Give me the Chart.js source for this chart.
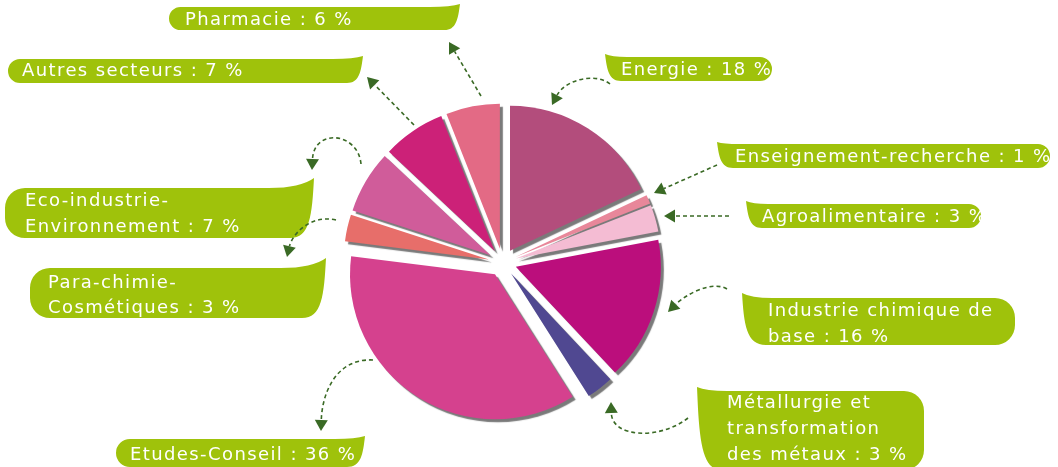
<!DOCTYPE html>
<html><head><meta charset="utf-8">
<script src="https://cdn.jsdelivr.net/npm/chart.js@4.4.1/dist/chart.umd.min.js"></script>
<style>html,body{margin:0;padding:0;background:#fff;overflow:hidden}#wrap{position:relative;width:1058px;height:467px}</style>
</head><body><div id="wrap"><canvas id="c"></canvas></div>
<script>
// ---- data ----
const categories = ['Energie','Enseignement-recherche','Agroalimentaire','Industrie chimique de base','Métallurgie et transformation des métaux','Etudes-Conseil','Para-chimie-Cosmétiques','Eco-industrie-Environnement','Autres secteurs','Pharmacie'];
const shares = [18,1,3,16,3,36,3,7,7,6];
const sliceColors = ['#b34d7c','#e8879a','#f4bcd3','#bb0e7c','#504891','#d5418e','#e76e6a','#d05c9a','#cc2178','#e36a85'];
// tokens per line (last line takes the rest)
const lineSplits = [[],[],[],[3],[2,1],[],[2],[2],[],[]];

// ---- layout / style ----
const TAG_GREEN = '#9fc20b';
const ARROW_GREEN = '#3a6a25';
const EXPLODE = 14;
const tags = [
  {side:'left',  x1:606, y1:57,  x2:772,  y2:81,  tx:605, ty:54,  textX:621, textY:75},
  {side:'left',  x1:719, y1:144, x2:1050, y2:168, tx:717, ty:142, textX:735, textY:162},
  {side:'left',  x1:747, y1:204, x2:981,  y2:228, tx:746, ty:201, textX:762, textY:222},
  {side:'left',  x1:745, y1:298, x2:1015, y2:345, tx:742, ty:293, textX:768, textY:316, lh:26},
  {side:'left',  x1:700, y1:391, x2:924,  y2:470, tx:697, ty:387, textX:727, textY:408, lh:26},
  {side:'right', x1:116, y1:439, x2:362,  y2:467, tx:365, ty:436, textX:130, textY:460},
  {side:'right', x1:30,  y1:268, x2:318,  y2:318, tx:326, ty:258, textX:48,  textY:288, lh:25},
  {side:'right', x1:5,   y1:188, x2:305,  y2:238, tx:314, ty:178, textX:25,  textY:206, lh:26},
  {side:'right', x1:8,   y1:59,  x2:358,  y2:83,  tx:363, ty:56,  textX:22,  textY:76},
  {side:'right', x1:169, y1:7,   x2:456,  y2:30,  tx:460, ty:4,   textX:185, textY:25}
];
const arrows = [
  [[610,84],[595,72],[565,80],[552,105]],
  [[717,165],[654,193]],
  [[729,216],[664,216]],
  [[727,289],[712,280],[685,295],[668,312]],
  [[688,418],[660,440],[612,438],[611,402]],
  [[373,360],[335,358],[322,395],[321,431]],
  [[336,220],[310,214],[292,235],[287,257]],
  [[361,164],[358,132],[314,128],[312,170]],
  [[414,125],[367,77]],
  [[481,96],[449,42]]
];

function tokens(s){ return s.match(/[^\s-]+-|[^\s-]+\s*|\s+/g); }
function labelLines(i){
  const t = tokens(categories[i] + ' : ' + shares[i] + ' %');
  const out=[]; let k=0;
  for (const n of lineSplits[i]) { out.push(t.slice(k,k+n).join('').trim()); k+=n; }
  out.push(t.slice(k).join('').trim());
  return out;
}

function tagPath(ctx,b){
  const {x1,y1,x2,y2,tx,ty}=b; const h=y2-y1; const r=Math.min(h/2,20);
  ctx.beginPath();
  if (b.side==='right'){
    const flare = h>30 ? 45 : 30;
    ctx.moveTo(x1+r,y1);
    ctx.lineTo(tx-flare,y1);
    ctx.quadraticCurveTo(tx-flare*0.3,y1,tx,ty);
    ctx.bezierCurveTo(tx-2,y1+h*0.55,tx-4,y2,tx-4-r,y2);
    ctx.lineTo(x1+r,y2);
    ctx.arcTo(x1,y2,x1,y2-r,r);
    ctx.lineTo(x1,y1+r);
    ctx.arcTo(x1,y1,x1+r,y1,r);
  } else {
    const flare = h>30 ? 30 : 22;
    ctx.moveTo(tx,ty);
    ctx.quadraticCurveTo(tx+flare*0.3,y1,tx+flare,y1);
    ctx.lineTo(x2-r,y1);
    ctx.arcTo(x2,y1,x2,y1+r,r);
    ctx.lineTo(x2,y2-r);
    ctx.arcTo(x2,y2,x2-r,y2,r);
    ctx.lineTo(tx+4+r,y2);
    ctx.bezierCurveTo(tx+4,y2,tx+2,y1+h*0.55,tx,ty);
  }
  ctx.closePath();
}

function drawArrow(ctx,pts){
  const end=pts[pts.length-1], prev=pts[pts.length-2];
  const ang=Math.atan2(end[1]-prev[1],end[0]-prev[0]);
  const L=11, W=6.5;
  const bx=end[0]-Math.cos(ang)*L, by=end[1]-Math.sin(ang)*L;
  ctx.save();
  ctx.strokeStyle=ARROW_GREEN; ctx.fillStyle=ARROW_GREEN;
  ctx.lineWidth=1.6; ctx.setLineDash([4,3]);
  ctx.beginPath(); ctx.moveTo(pts[0][0],pts[0][1]);
  if (pts.length===4) ctx.bezierCurveTo(pts[1][0],pts[1][1],pts[2][0],pts[2][1],bx,by);
  else ctx.lineTo(bx,by);
  ctx.stroke();
  ctx.setLineDash([]);
  const px=-Math.sin(ang)*W, py=Math.cos(ang)*W;
  ctx.beginPath(); ctx.moveTo(end[0],end[1]);
  ctx.lineTo(bx+px,by+py); ctx.lineTo(bx-px,by-py); ctx.closePath(); ctx.fill();
  ctx.restore();
}

const explodePlugin = {
  id:'explode',
  beforeDatasetDraw(chart,args){
    const ctx=chart.ctx;
    ctx.save();
    ctx.shadowColor='rgba(115,115,115,0.95)';
    ctx.shadowOffsetX=3; ctx.shadowOffsetY=3; ctx.shadowBlur=1;
    args.meta.data.forEach(arc=>{
      const mid=(arc.startAngle+arc.endAngle)/2;
      ctx.save();
      ctx.translate(Math.cos(mid)*EXPLODE,Math.sin(mid)*EXPLODE);
      arc.draw(ctx,chart.chartArea);
      ctx.restore();
    });
    ctx.restore();
    return false;
  }
};

const calloutPlugin = {
  id:'callouts',
  afterDraw(chart){
    const ctx=chart.ctx;
    ctx.save();
    tags.forEach((b,i)=>{
      ctx.fillStyle=TAG_GREEN; tagPath(ctx,b); ctx.fill();
      ctx.fillStyle='#ffffff';
      ctx.font='18px "DejaVu Sans"';
      try{ ctx.letterSpacing='1.4px'; }catch(e){}
      ctx.textBaseline='alphabetic'; ctx.textAlign='left';
      labelLines(i).forEach((ln,j)=>ctx.fillText(ln,b.textX,b.textY+j*(b.lh||26)));
    });
    arrows.forEach(p=>drawArrow(ctx,p));
    ctx.restore();
  }
};

new Chart(document.getElementById('c'),{
  type:'pie',
  data:{labels:categories,datasets:[{data:shares,backgroundColor:sliceColors,borderWidth:0,offset:0}]},
  options:{
    responsive:true, maintainAspectRatio:false, animation:false, devicePixelRatio:1,
    layout:{padding:{left:357.5,right:410.5,top:117.5,bottom:59.5}},
    plugins:{legend:{display:false},tooltip:{enabled:false}},
    events:[]
  },
  plugins:[explodePlugin,calloutPlugin]
});
</script>
</body></html>
